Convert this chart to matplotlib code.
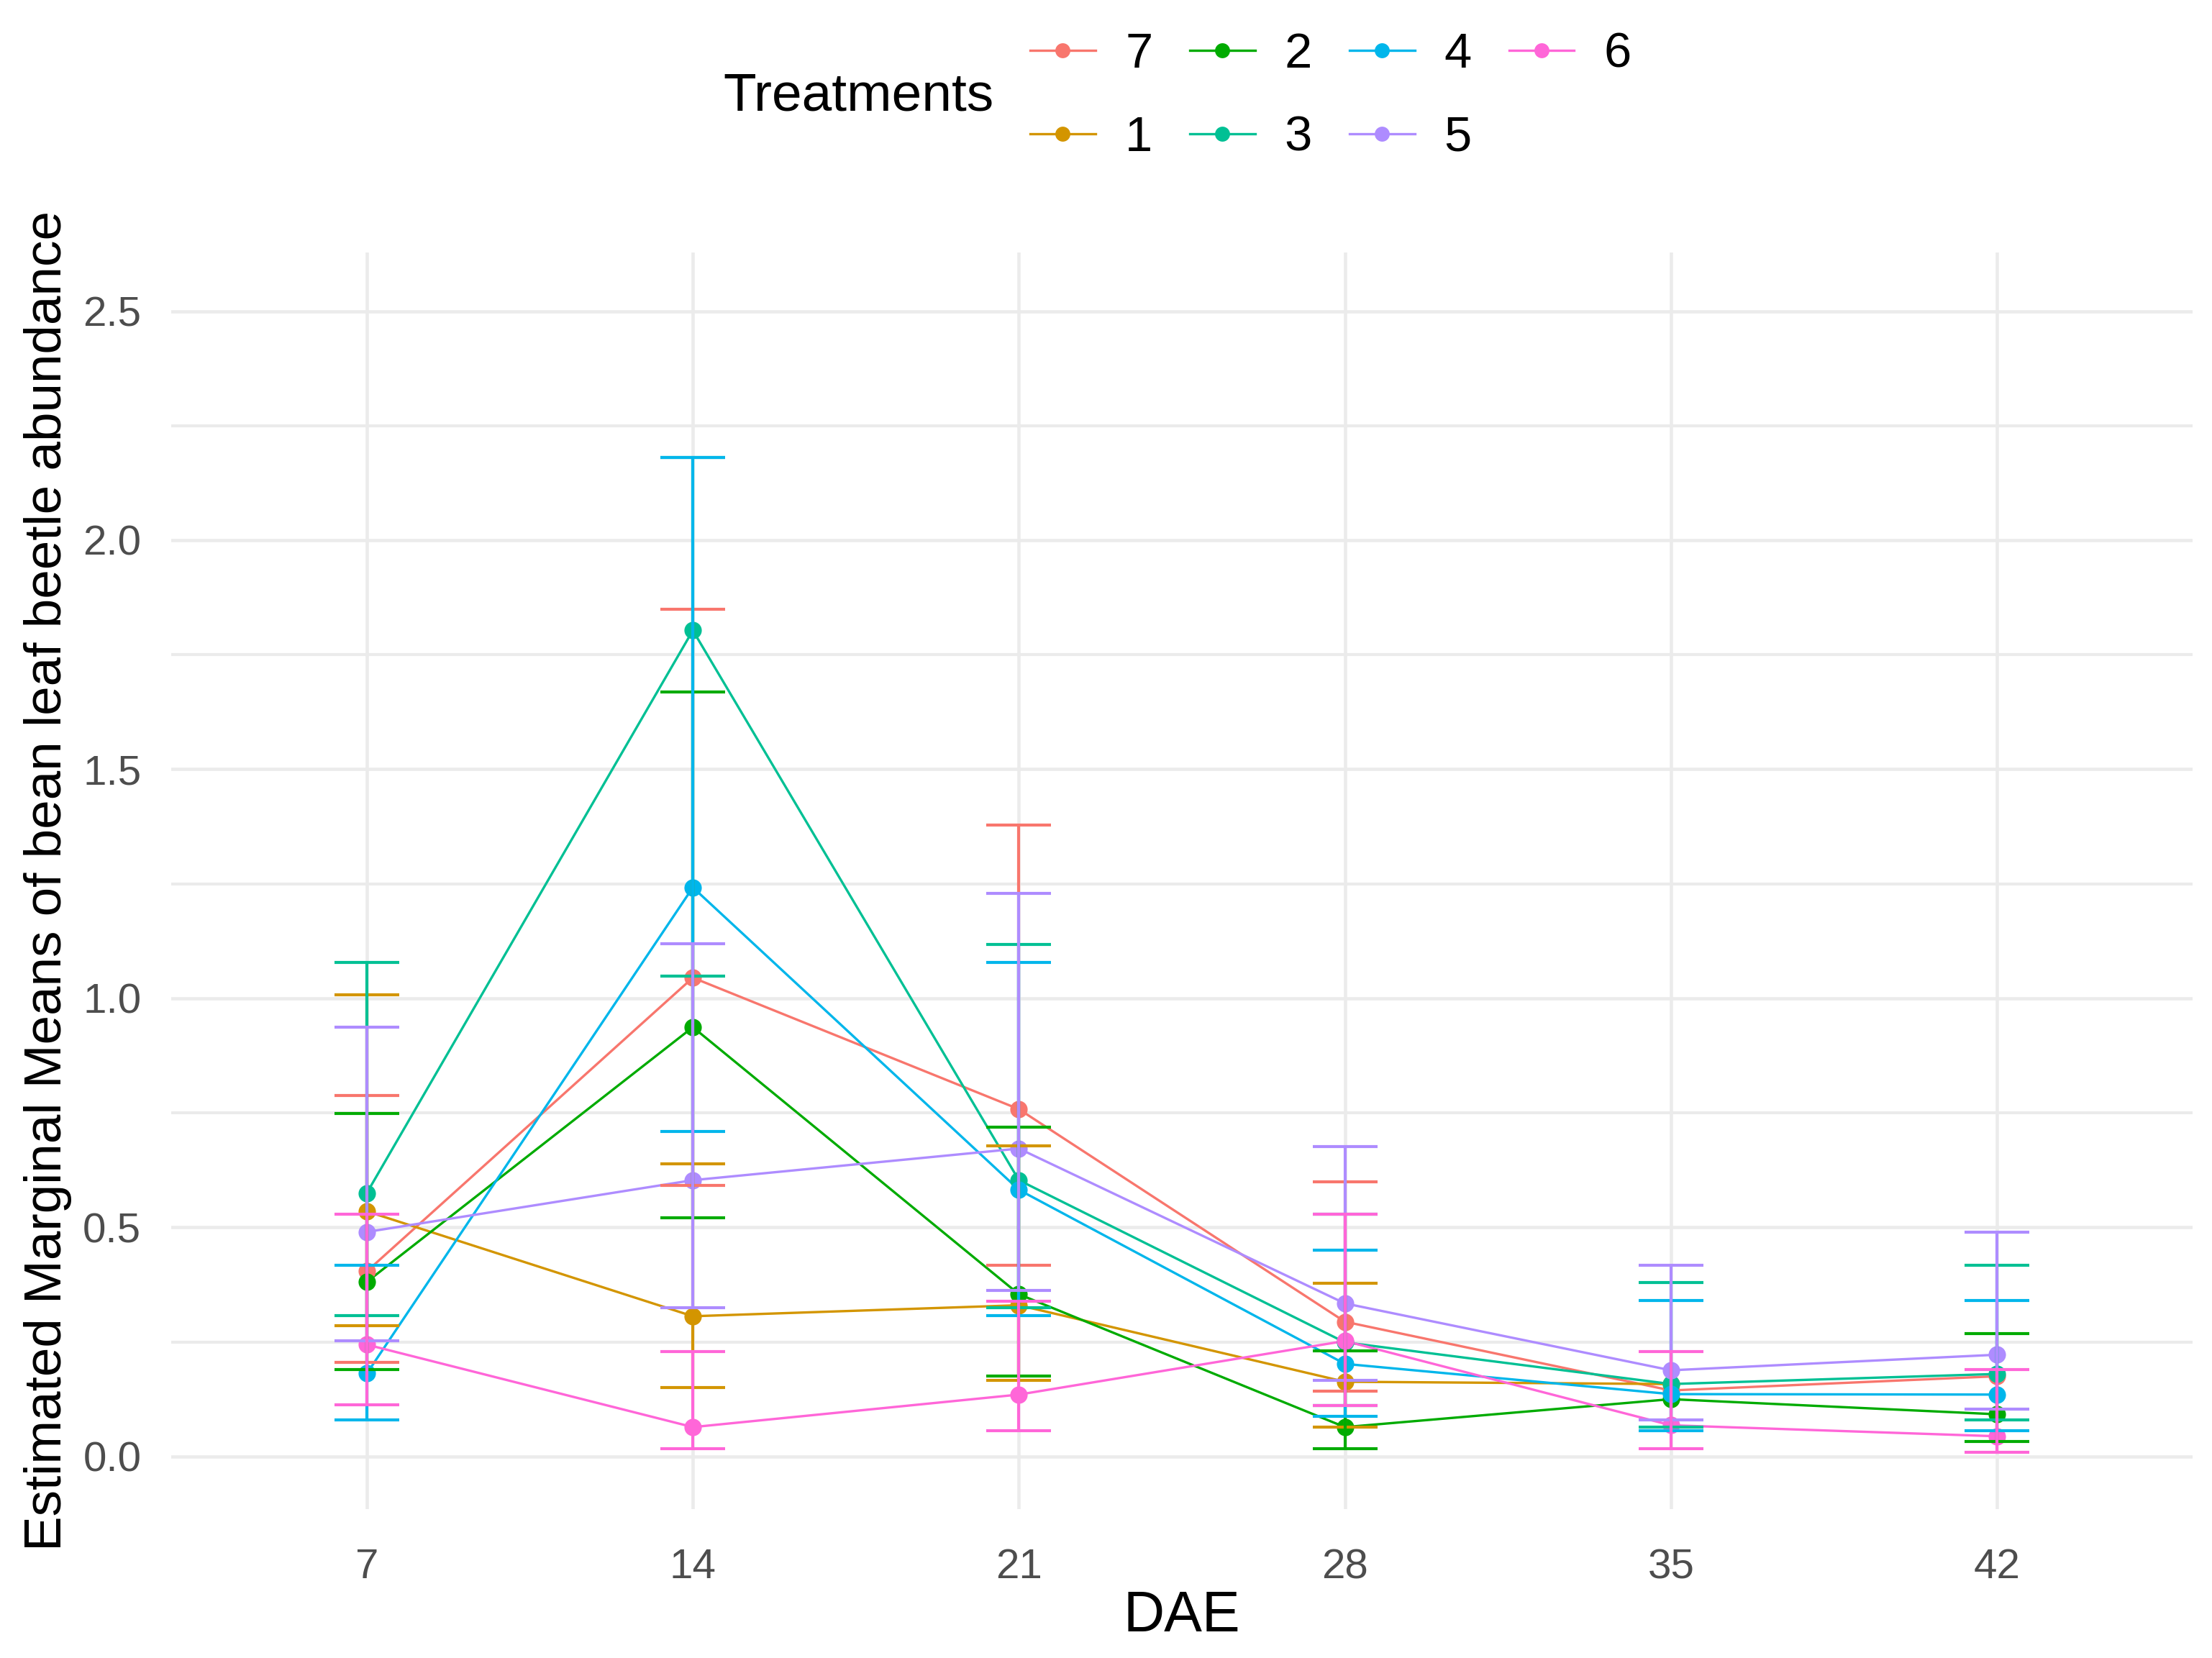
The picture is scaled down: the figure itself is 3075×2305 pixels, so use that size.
import numpy as np
import matplotlib
matplotlib.use("Agg")
import matplotlib.pyplot as plt
from matplotlib.lines import Line2D

plt.rcParams['font.family'] = ['Liberation Sans', 'DejaVu Sans']

# ---------------- data ----------------
dae_labels = ["7", "14", "21", "28", "35", "42"]
treatments = ["7", "1", "2", "3", "4", "5", "6"]
colors = ["#F8766D", "#D39500", "#00AB00", "#00C094", "#00B6EB", "#AE8CFF", "#FF66D8"]
nan = np.nan

mean_t7 = [0.404, 1.045, 0.758, 0.294, 0.144, 0.175]
low_t7  = [0.206, 0.592, 0.418, 0.143, nan, nan]
up_t7   = [0.788, 1.849, 1.378, 0.599, nan, nan]

mean_t1 = [0.535, 0.306, 0.330, 0.163, 0.158, nan]
low_t1  = [0.285, 0.151, 0.166, 0.064, nan, nan]
up_t1   = [1.008, 0.638, 0.678, 0.378, nan, nan]

mean_t2 = [0.381, 0.937, 0.354, 0.064, 0.125, 0.092]
low_t2  = [0.190, 0.521, 0.175, 0.017, nan, 0.032]
up_t2   = [0.749, 1.669, 0.718, 0.230, nan, 0.268]

mean_t3 = [0.575, 1.803, 0.603, 0.249, 0.158, 0.180]
low_t3  = [0.308, 1.048, 0.324, 0.111, 0.064, 0.080]
up_t3   = [1.079, 2.180, 1.118, 0.528, 0.379, 0.418]

mean_t4 = [0.181, 1.242, 0.582, 0.202, 0.136, 0.135]
low_t4  = [0.080, 0.709, 0.308, 0.087, 0.056, 0.056]
up_t4   = [0.418, 2.180, 1.079, 0.450, 0.340, 0.340]

mean_t5 = [0.490, 0.603, 0.672, 0.334, 0.188, 0.222]
low_t5  = [0.253, 0.324, 0.363, 0.166, 0.080, 0.103]
up_t5   = [0.937, 1.119, 1.229, 0.677, 0.418, 0.489]

mean_t6 = [0.244, 0.064, 0.135, 0.252, 0.068, 0.044]
low_t6  = [0.112, 0.017, 0.056, 0.111, 0.017, 0.009]
up_t6   = [0.529, 0.229, 0.339, 0.528, 0.229, 0.190]

means = [mean_t7, mean_t1, mean_t2, mean_t3, mean_t4, mean_t5, mean_t6]
lows = [low_t7, low_t1, low_t2, low_t3, low_t4, low_t5, low_t6]
ups = [up_t7, up_t1, up_t2, up_t3, up_t4, up_t5, up_t6]

yticks = [0.0, 0.5, 1.0, 1.5, 2.0, 2.5]
yminor = [0.25, 0.75, 1.25, 1.75, 2.25]

# ---------------- figure ----------------
W, H = 3075, 2305
fig = plt.figure(figsize=(W / 300, H / 300), dpi=300)
ax = fig.add_axes([238 / W, 1 - 2098 / H, (3048 - 238) / W, (2098 - 351) / H])

xpos = np.arange(1, len(dae_labels) + 1)

# lines
for m, c in zip(means, colors):
    ax.plot(xpos, m, color=c, lw=0.8, zorder=3)
# points
for m, c in zip(means, colors):
    ax.plot(xpos, m, 'o', color=c, ms=5.8, mec='none', zorder=4)
# error bars
for m, lo, up, c in zip(means, lows, ups, colors):
    m = np.array(m, float); lo = np.array(lo, float); up = np.array(up, float)
    ok = ~np.isnan(lo) & ~np.isnan(up)
    ax.errorbar(xpos[ok], m[ok], yerr=[m[ok] - lo[ok], up[ok] - m[ok]],
                fmt='none', ecolor=c, elinewidth=1.0, capsize=10.8,
                capthick=1.0, zorder=5)

ax.set_xlim(0.4, 6.6)
ax.set_ylim(-0.115, 2.628)
ax.set_xticks(xpos)
ax.set_xticklabels(dae_labels)
ax.set_yticks(yticks)
ax.set_yticklabels([f"{v:.1f}" for v in yticks])
ax.set_yticks(yminor, minor=True)

for s in ax.spines.values():
    s.set_visible(False)
ax.tick_params(axis='both', which='both', length=0, labelsize=14,
               labelcolor='#4D4D4D')
ax.tick_params(axis='x', pad=13)
ax.tick_params(axis='y', pad=10)
ax.grid(True, which='major', color='#EBEBEB', lw=1.1, zorder=0)
ax.grid(True, which='minor', axis='y', color='#EBEBEB', lw=1.0, zorder=0)
ax.set_axisbelow(True)

ax.set_xlabel("DAE", fontsize=19, color='black', labelpad=1)
ax.set_ylabel("Estimated Marginal Means of bean leaf beetle abundance",
              fontsize=17.5, color='black', labelpad=3.5)

# legend
handles = [Line2D([0], [0], color=c, lw=0.8, marker='o', ms=5, mec='none')
           for c in colors]
fig.legend(handles, treatments, ncol=4, loc='upper left',
           bbox_to_anchor=(1432 / W, 1 - 44 / H), frameon=False,
           fontsize=16.5, handlelength=1.32, handletextpad=0.6,
           columnspacing=0.75, labelspacing=0.75, borderpad=0,
           borderaxespad=0)
fig.text(1005 / W, 1 - 134 / H, "Treatments", fontsize=18, ha='left',
         va='center', color='black')

fig.savefig("out.png", dpi=300)
